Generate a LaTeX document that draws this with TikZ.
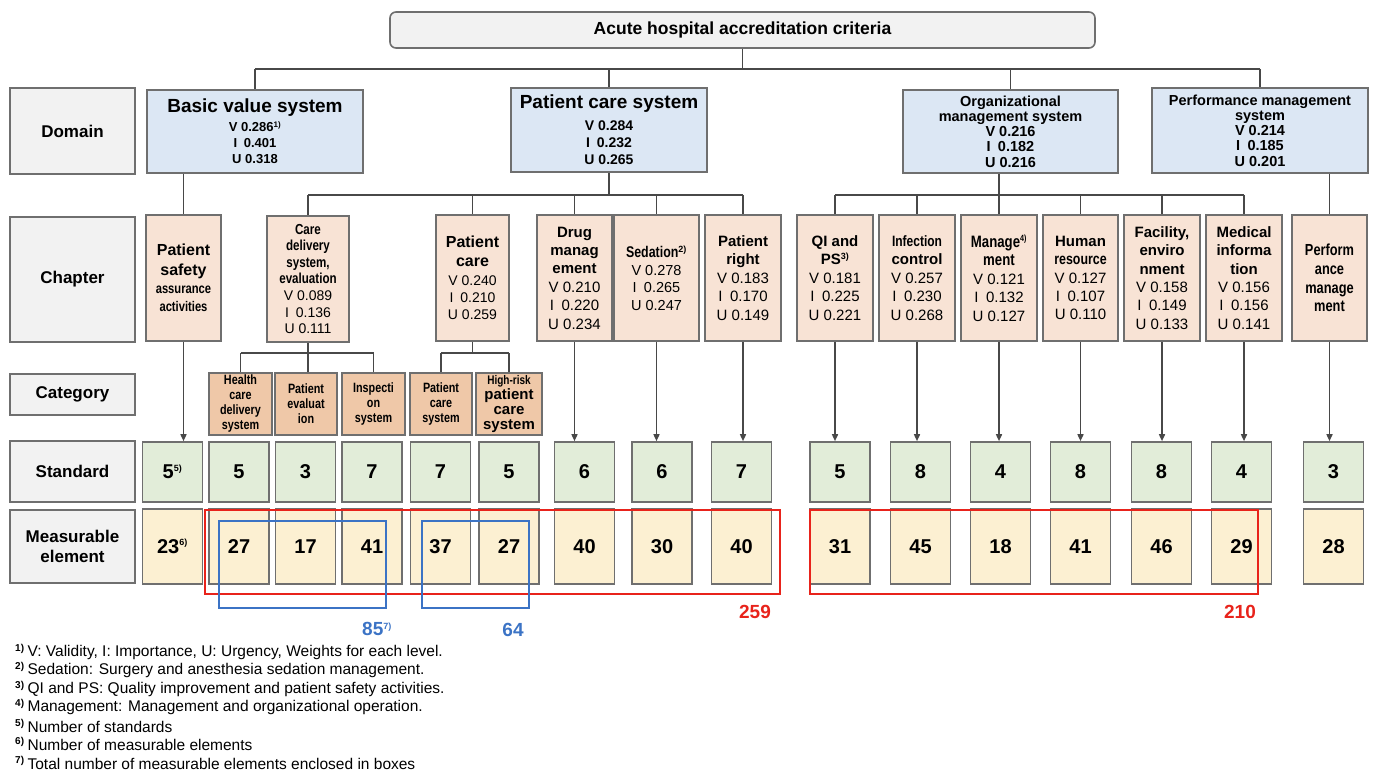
\documentclass[tikz,border=0pt]{standalone}
\usepackage{fontspec}
\setmainfont{Liberation Sans}
\newfontfamily\nar[FakeStretch=0.8]{Liberation Sans}
\usetikzlibrary{arrows.meta}
\definecolor{lblgray}{HTML}{F2F2F2}
\definecolor{bordergray}{HTML}{6F6F6F}
\definecolor{linegray}{HTML}{484848}
\definecolor{domblue}{HTML}{DCE7F4}
\definecolor{chappeach}{HTML}{F8E3D5}
\definecolor{catpeach}{HTML}{EFC8A8}
\definecolor{stdgreen}{HTML}{E2EDD9}
\definecolor{meayellow}{HTML}{FCF0D2}
\definecolor{hlred}{HTML}{E8231B}
\definecolor{hlblue}{HTML}{3B73C5}
\newcommand\fs[2]{\fontsize{#1}{#2}\selectfont}
\newcommand\hb{\bfseries}
\newcommand\hn{\bfseries\nar}
\newcommand\fn[1]{\textsuperscript{\bfseries\fs{10}{11}#1}\hspace{3pt}}
\tikzset{
  boxbase/.style={draw=bordergray, line width=1.6pt, inner sep=0pt, align=center, text=black},
  lbl/.style={boxbase, fill=lblgray, minimum width=125pt, font=\bfseries\fs{17}{20}},
  dom/.style={boxbase, fill=domblue},
  chap/.style={boxbase, fill=chappeach, minimum height=126pt},
  cat/.style={boxbase, fill=catpeach, minimum height=62pt, minimum width=63pt, font=\bfseries\nar\fs{13.5}{15}},
  stdb/.style={boxbase, fill=stdgreen, minimum width=60pt, minimum height=60pt, font=\bfseries\fs{20}{24}},
  meab/.style={boxbase, fill=meayellow, minimum width=60pt, minimum height=75pt, font=\bfseries\fs{20}{24}},
  conn/.style={draw=linegray, line width=1.5pt},
  arr/.style={conn, -{Triangle[length=7pt,width=6pt]}},
  hlr/.style={draw=hlred, line width=2.8pt},
  hlb/.style={draw=hlblue, line width=2.8pt},
  foot/.style={anchor=west, inner sep=0pt, font=\fs{15.5}{18}},
}
\begin{document}
\begin{tikzpicture}[x=1pt,y=-1pt]
\useasboundingbox (0,0) rectangle (1373,770);
% title
\node[boxbase, fill=lblgray, rounded corners=6pt, minimum width=705pt, minimum height=36pt, font=\bfseries\fs{17.5}{20}] (title) at (742.5,30) {Acute hospital accreditation criteria};
% labels
\node[lbl, minimum height=86pt] (ldom) at (72.5,131) {Domain};
\node[lbl, minimum height=125pt] (lchap) at (72.5,279.5) {Chapter};
\node[lbl, minimum height=41pt] (lcat) at (72.5,394.5) {Category};
\node[lbl, minimum height=61pt] (lstd) at (72.5,471.5) {Standard};
\node[lbl, minimum height=73pt] (lmea) at (72.5,546.5) {Measurable\\element};
% domains
\node[dom, minimum width=216pt, minimum height=83pt, font=\bfseries\fs{13}{16}] (basic) at (255,131.5)
  {\fs{19}{22}Basic value system\\[3pt]V 0.286\textsuperscript{\fs{8}{9}1)}\\I\enspace0.401\\U 0.318};
\node[dom, minimum width=196pt, minimum height=84pt, font=\bfseries\fs{14}{17}] (pcs) at (609,130)
  {\fs{19}{22}Patient care system\\[5pt]V 0.284\\I\enspace0.232\\U 0.265};
\node[dom, minimum width=215pt, minimum height=83pt, font=\bfseries\fs{14.5}{15.3}] (org) at (1010.5,131.5)
  {Organizational\\management system\\V 0.216\\I\enspace0.182\\U 0.216};
\node[dom, minimum width=216pt, minimum height=85pt, font=\bfseries\fs{14.5}{15.3}] (perf) at (1260,130.5)
  {Performance management\\system\\V 0.214\\I\enspace0.185\\U 0.201};
% chapters
\node[chap, minimum width=75pt, font=\bfseries\fs{16}{18.3}] (psa) at (183.5,278)
  {Patient\\[1.5pt]safety\\\nar\fs{14}{16}assurance\\\nar\fs{14}{16}activities};
\node[chap, minimum width=82pt, font=\fs{14}{16.6}] (cde) at (308,279)
  {\hn\fs{14.5}{16.6}Care\\\hn\fs{14.5}{16.6}delivery\\\hn\fs{14.5}{16.6}system,\\\hn\fs{14.5}{16.6}evaluation\\V 0.089\\I\enspace0.136\\U 0.111};
\node[chap, minimum width=73pt, font=\fs{14}{17.2}] (pc) at (472.5,278)
  {\hb\fs{16}{19}Patient\\[1.5pt]\hb\fs{16}{19}care\\[1.5pt]V 0.240\\I\enspace0.210\\U 0.259};
\node[chap, minimum width=75pt, font=\fs{15}{18.4}] (drug) at (574.5,278)
  {\hb Drug\\\hb manag\\\hb ement\\V 0.210\\I\enspace0.220\\U 0.234};
\node[chap, minimum width=85pt, font=\fs{14.5}{17.6}] (sed) at (656.5,278)
  {\hn\fs{15.5}{17.6}Sedation\textsuperscript{\normalfont\bfseries\fs{9}{10}2)}\\V 0.278\\I\enspace0.265\\U 0.247};
\node[chap, minimum width=76pt, font=\fs{15}{18.5}] (pr) at (743,278)
  {\hb Patient\\\hb right\\V 0.183\\I\enspace0.170\\U 0.149};
\node[chap, minimum width=76pt, font=\fs{15}{18.5}] (qi) at (835,278)
  {\hb QI and\\\hb PS\textsuperscript{\fs{9}{10}3)}\\V 0.181\\I\enspace0.225\\U 0.221};
\node[chap, minimum width=76pt, font=\fs{15}{18.5}] (inf) at (917,278)
  {\hn Infection\\\hb control\\V 0.257\\I\enspace0.230\\U 0.268};
\node[chap, minimum width=76pt, font=\fs{15}{18.5}] (man) at (999,278)
  {\hn\fs{16.5}{18.5}Manage\textsuperscript{\fs{9}{10}4)}\\\hn\fs{16.5}{18.5}ment\\V 0.121\\I\enspace0.132\\U 0.127};
\node[chap, minimum width=75pt, font=\fs{15}{18.3}] (hum) at (1080.5,278)
  {\hb Human\\\hn\fs{15.5}{18.3}resource\\V 0.127\\I\enspace0.107\\U 0.110};
\node[chap, minimum width=76pt, font=\fs{15}{18.4}] (fac) at (1162,278)
  {\hb Facility,\\\hb enviro\\\hb nment\\V 0.158\\I\enspace0.149\\U 0.133};
\node[chap, minimum width=76pt, font=\fs{15}{18.4}] (med) at (1244,278)
  {\hb Medical\\\hb informa\\\hb tion\\V 0.156\\I\enspace0.156\\U 0.141};
\node[chap, minimum width=75pt, font=\bfseries\nar\fs{16}{18.6}] (perfm) at (1329.5,278)
  {Perform\\ance\\manage\\ment};
% categories
\node[cat] (hc) at (240.5,404) {Health\\care\\delivery\\system};
\node[cat, minimum width=62pt] (pe) at (306,404) {Patient\\evaluat\\ion};
\node[cat] (insp) at (373.5,404) {Inspecti\\on\\system};
\node[cat, minimum width=62pt] (pcsy) at (441,404) {Patient\\care\\system};
\node[cat, minimum width=66pt] (hrp) at (509,404) {\fs{12.5}{15}High-risk\\\normalfont\bfseries\fs{15}{15}patient\\\normalfont\bfseries\fs{15}{15}care\\\normalfont\bfseries\fs{15}{15}system};
% standards
\foreach \n/\x/\v in {1/172.5/{5\textsuperscript{\fs{9}{10}5)}},2/239/5,3/305.5/3,4/372/7,5/440.5/7,6/509/5,7/584.5/6,8/662/6,9/741.5/7,10/840/5,11/920.5/8,12/1000.5/4,13/1080.5/8,14/1161.5/8,15/1241.5/4,16/1333.5/3}
  \node[stdb] (s\n) at (\x,472) {\v};
\foreach \n/\x/\v in {1/172.5/{23\textsuperscript{\fs{9}{10}6)}},2/239/27,3/305.5/17,4/372/41,5/440.5/37,6/509/27,7/584.5/40,8/662/30,9/741.5/40,10/840/31,11/920.5/45,12/1000.5/18,13/1080.5/41,14/1161.5/46,15/1241.5/29,16/1333.5/28}
  \node[meab] (m\n) at (\x,546.5) {\v};
% connectors: title to domains
\draw[conn] (title.south) -- (title.south |- 0,69);
\draw[conn] (basic.north |- 0,69) -- (perf.north |- 0,69);
\foreach \d in {basic,pcs,org,perf} \draw[conn] (\d.north |- 0,69) -- (\d.north);
% basic -> psa
\draw[conn] (psa.north |- basic.south) -- (psa.north);
% pcs -> chapters
\draw[conn] (pcs.south) -- (pcs.south |- 0,195);
\draw[conn] (cde.north |- 0,195) -- (pr.north |- 0,195);
\foreach \c in {cde,pc,drug,sed,pr} \draw[conn] (\c.north |- 0,195) -- (\c.north);
% org -> chapters
\draw[conn] (man.north |- org.south) -- (man.north |- 0,195);
\draw[conn] (qi.north |- 0,195) -- (med.north |- 0,195);
\foreach \c in {qi,inf,man,hum,fac,med} \draw[conn] (\c.north |- 0,195) -- (\c.north);
% perf -> perfm
\draw[conn] (perfm.north |- perf.south) -- (perfm.north);
% chapters -> categories
\draw[conn] (cde.south) -- (cde.south |- pe.north);
\draw[conn] (hc.north |- 0,353) -- (insp.north |- 0,353);
\draw[conn] (hc.north |- 0,353) -- (hc.north);
\draw[conn] (insp.north |- 0,353) -- (insp.north);
\draw[conn] (pc.south) -- (pc.south |- 0,353);
\draw[conn] (pcsy.north |- 0,353) -- (hrp.north |- 0,353);
\draw[conn] (pcsy.north |- 0,353) -- (pcsy.north);
\draw[conn] (hrp.north |- 0,353) -- (hrp.north);
% chapters -> standards
\foreach \c/\s in {psa/1,drug/7,sed/8,pr/9,qi/10,inf/11,man/12,hum/13,fac/14,med/15,perfm/16}
  \draw[arr] (\c.south) -- (\c.south |- s\s.north);
% highlight boxes
\draw[hlr] (205,510) rectangle (780,594);
\draw[hlr] (810,510) rectangle (1258,594);
\draw[hlb] (219,521) rectangle (386,608);
\draw[hlb] (422,521) rectangle (529,608);
\node[text=hlblue, font=\bfseries\fs{19}{22}, inner sep=0pt] (t85) at (377,629) {85\textsuperscript{\fs{9}{10}7)}};
\node[text=hlblue, font=\bfseries\fs{19}{22}, inner sep=0pt] (t64) at (513,630) {64};
\node[text=hlred, font=\bfseries\fs{19}{22}, inner sep=0pt] (t259) at (755,612) {259};
\node[text=hlred, font=\bfseries\fs{19}{22}, inner sep=0pt] (t210) at (1240,612) {210};
% footnotes
\node[foot] (f1) at (15,652) {\fn{1)}V: Validity, I: Importance, U: Urgency, Weights for each level.};
\node[foot] (f2) at (15,670) {\fn{2)}Sedation: Surgery and anesthesia sedation management.};
\node[foot] (f3) at (15,689) {\fn{3)}QI and PS: Quality improvement and patient safety activities.};
\node[foot] (f4) at (15,707) {\fn{4)}Management: Management and organizational operation.};
\node[foot] (f5) at (15,726) {\fn{5)}Number of standards};
\node[foot] (f6) at (15,744) {\fn{6)}Number of measurable elements};
\node[foot] (f7) at (15,763) {\fn{7)}Total number of measurable elements enclosed in boxes};
\end{tikzpicture}
\end{document}
